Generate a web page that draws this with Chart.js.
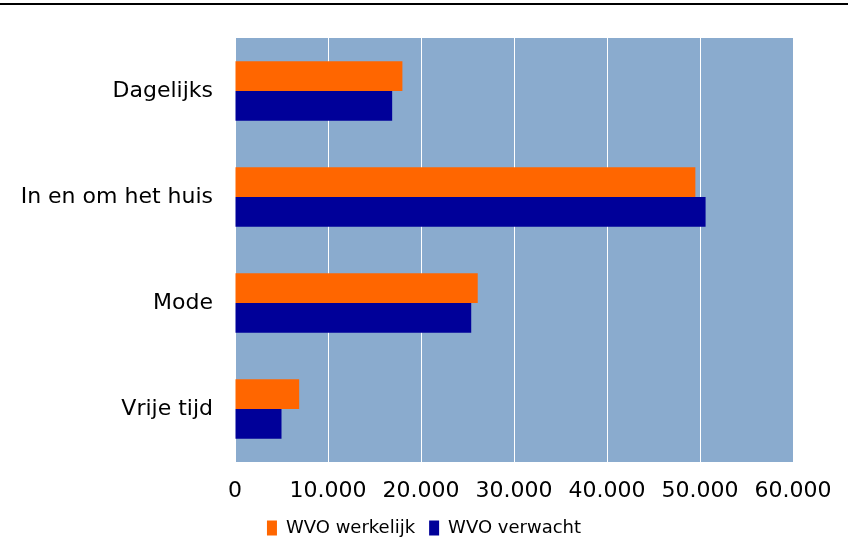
<!DOCTYPE html>
<html>
<head>
<meta charset="utf-8">
<script src="https://cdn.jsdelivr.net/npm/chart.js@4.4.0/dist/chart.umd.min.js"></script>
<style>
  html, body { margin: 0; padding: 0; background: #fff; }
  #wrap { position: relative; width: 848px; height: 545px; }
  #topline { position: absolute; left: 0; top: 3px; width: 848px; height: 2px; background: #000; }
  canvas { position: absolute; left: 0; top: 0; }
</style>
</head>
<body>
<div id="wrap">
  <canvas id="chart" width="848" height="545"></canvas>
  <div id="topline"></div>
</div>
<script>
// categorieën en waarden
const categories = ["Dagelijks", "In en om het huis", "Mode", "Vrije tijd"];
const werkelijk = [18000, 49500, 26100, 6900];
const verwacht = [16900, 50600, 25400, 5000];
const xTicks = [0, 10000, 20000, 30000, 40000, 50000, 60000];

const fmt = v => v === 0 ? "0" : v.toLocaleString("nl-NL");

// achtergrond van het plotgebied
const plotBg = {
  id: "plotBg",
  beforeDraw(chart) {
    const a = chart.chartArea, ctx = chart.ctx;
    ctx.save();
    ctx.fillStyle = "#8aabce";
    ctx.fillRect(a.left, a.top, a.right - a.left, a.bottom - a.top);
    ctx.restore();
  }
};

Chart.defaults.font.family = "'DejaVu Sans', Verdana, sans-serif";
Chart.defaults.font.size = 22;
Chart.defaults.color = "#000";

new Chart(document.getElementById("chart"), {
  type: "bar",
  data: {
    labels: categories,
    datasets: [
      { label: "WVO werkelijk", data: werkelijk, backgroundColor: "#ff6600",
        categoryPercentage: 0.56, barPercentage: 1.0 },
      { label: "WVO verwacht", data: verwacht, backgroundColor: "#000099",
        categoryPercentage: 0.56, barPercentage: 1.0 }
    ]
  },
  options: {
    indexAxis: "y",
    responsive: false,
    animation: false,
    layout: { padding: { top: 38, right: 0, bottom: -2, left: 0 } },
    scales: {
      x: {
        min: 0, max: 60000,
        afterBuildTicks: s => { s.ticks = xTicks.map(v => ({ value: v })); },
        afterFit: s => { s.height = 43; s.paddingRight = 55; },
        ticks: { callback: v => fmt(v), padding: 16, maxRotation: 0 },
        grid: { color: "#ffffff", lineWidth: 1, drawTicks: false },
        border: { display: false }
      },
      y: {
        afterFit: s => { s.width = 235; },
        ticks: { padding: 22 },
        grid: { display: false, drawTicks: false },
        border: { display: false }
      }
    },
    plugins: {
      legend: {
        position: "bottom",
        labels: { boxWidth: 10, boxHeight: 15, padding: 14, font: { size: 18 } }
      },
      tooltip: { enabled: false }
    }
  },
  plugins: [plotBg]
});
</script>
</body>
</html>
